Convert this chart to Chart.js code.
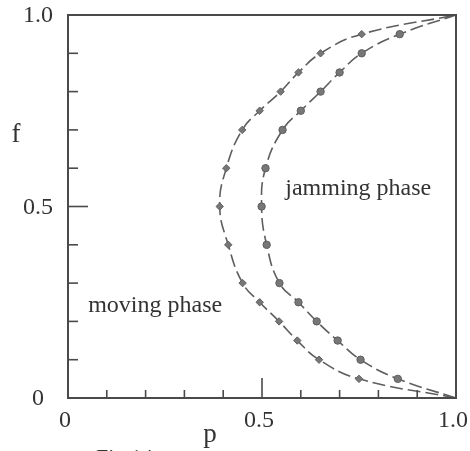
<!DOCTYPE html>
<html>
<head>
<meta charset="utf-8">
<script src="https://cdn.jsdelivr.net/npm/chart.js@4"></script>
<style>
  html, body { margin: 0; padding: 0; background: #fff; }
  #wrap { width: 470px; height: 451px; }
</style>
</head>
<body>
<div id="wrap"><canvas id="chart" width="470" height="451"></canvas></div>
<script>
// f levels shared by both curves (end points at f = 0 and f = 1 have no marker)
const fLevels = [0, 0.05, 0.1, 0.15, 0.2, 0.25, 0.3, 0.4, 0.5, 0.6, 0.7, 0.75, 0.8, 0.85, 0.9, 0.95, 1.0]
const pDiamond = [1.0, 0.75, 0.647, 0.591, 0.544, 0.494, 0.45, 0.413, 0.391, 0.408, 0.449, 0.494, 0.548, 0.594, 0.651, 0.757, 1.0]
const pCircle = [1.0, 0.85, 0.754, 0.695, 0.641, 0.594, 0.545, 0.512, 0.499, 0.509, 0.553, 0.6, 0.651, 0.7, 0.757, 0.855, 1.0]
const yTickLabels = {0: '0', 0.5: '0.5', 1: '1.0'}
const xTickLabels = {0: '0', 0.5: '0.5', 1: '1.0'}
const phaseLabels = [
  {text: 'jamming phase', p: 0.56, f: 0.53},
  {text: 'moving phase', p: 0.052, f: 0.225}
]

const INK = '#333'
const SERIF = '"Liberation Serif", "DejaVu Serif", serif'

function toPoints(ps) {
  return ps.map((p, i) => ({x: p, y: fLevels[i]}))
}
function markerRadius(ps) {
  return ps.map((p, i) => (i === 0 || i === ps.length - 1) ? 0 : 3.7)
}

// frame, inward ticks and all text
const framePlugin = {
  id: 'frame',
  afterDraw(chart) {
    const ctx = chart.ctx
    const xs = chart.scales.x
    const ys = chart.scales.y
    const a = chart.chartArea
    ctx.save()
    ctx.strokeStyle = '#4a4a4a'
    ctx.lineWidth = 2
    ctx.strokeRect(a.left, a.top, a.right - a.left, a.bottom - a.top)
    ctx.lineWidth = 1.6
    for (let i = 1; i < 10; i += 1) {
      const v = i / 10
      const len = i === 5 ? 20 : 10
      const yy = ys.getPixelForValue(v)
      ctx.beginPath()
      ctx.moveTo(a.left, yy)
      ctx.lineTo(a.left + len, yy)
      ctx.stroke()
      const xx = xs.getPixelForValue(v)
      const lx = i === 5 ? 20 : 8
      ctx.beginPath()
      ctx.moveTo(xx, a.bottom)
      ctx.lineTo(xx, a.bottom - lx)
      ctx.stroke()
    }
    ctx.fillStyle = INK
    ctx.font = '24px ' + SERIF
    ctx.textAlign = 'center'
    ctx.textBaseline = 'middle'
    for (const v of Object.keys(yTickLabels)) {
      ctx.fillText(yTickLabels[v], 38, ys.getPixelForValue(Number(v)) + 1)
    }
    for (const v of Object.keys(xTickLabels)) {
      ctx.fillText(xTickLabels[v], xs.getPixelForValue(Number(v)) - 3, 421)
    }
    ctx.font = '27px ' + SERIF
    ctx.textBaseline = 'alphabetic'
    ctx.fillText('f', 16, 142)
    ctx.fillText('p', 210, 442)
    ctx.font = '24px ' + SERIF
    ctx.textAlign = 'left'
    for (const l of phaseLabels) {
      ctx.fillText(l.text, xs.getPixelForValue(l.p), ys.getPixelForValue(l.f))
    }
    ctx.font = '22px ' + SERIF
    ctx.fillText('Fig.14', 96, 464)
    ctx.restore()
  }
}

const common = {
  showLine: true,
  borderColor: '#5e5e5e',
  borderWidth: 1.6,
  borderDash: [13, 5],
  backgroundColor: '#777',
  pointBorderColor: '#5e5e5e',
  pointBorderWidth: 1,
  tension: 0.45,
  fill: false
}

new Chart(document.getElementById('chart'), {
  type: 'scatter',
  data: {
    datasets: [
      Object.assign({}, common, {
        label: 'diamond',
        data: toPoints(pDiamond),
        pointStyle: 'rectRot',
        pointRadius: markerRadius(pDiamond)
      }),
      Object.assign({}, common, {
        label: 'circle',
        data: toPoints(pCircle),
        pointStyle: 'circle',
        pointRadius: markerRadius(pCircle)
      })
    ]
  },
  options: {
    responsive: false,
    animation: false,
    layout: {padding: {left: 68, top: 15, right: 14, bottom: 53}},
    plugins: {legend: {display: false}, tooltip: {enabled: false}},
    scales: {
      x: {type: 'linear', min: 0, max: 1, display: false},
      y: {type: 'linear', min: 0, max: 1, display: false}
    }
  },
  plugins: [framePlugin]
})
</script>
</body>
</html>
